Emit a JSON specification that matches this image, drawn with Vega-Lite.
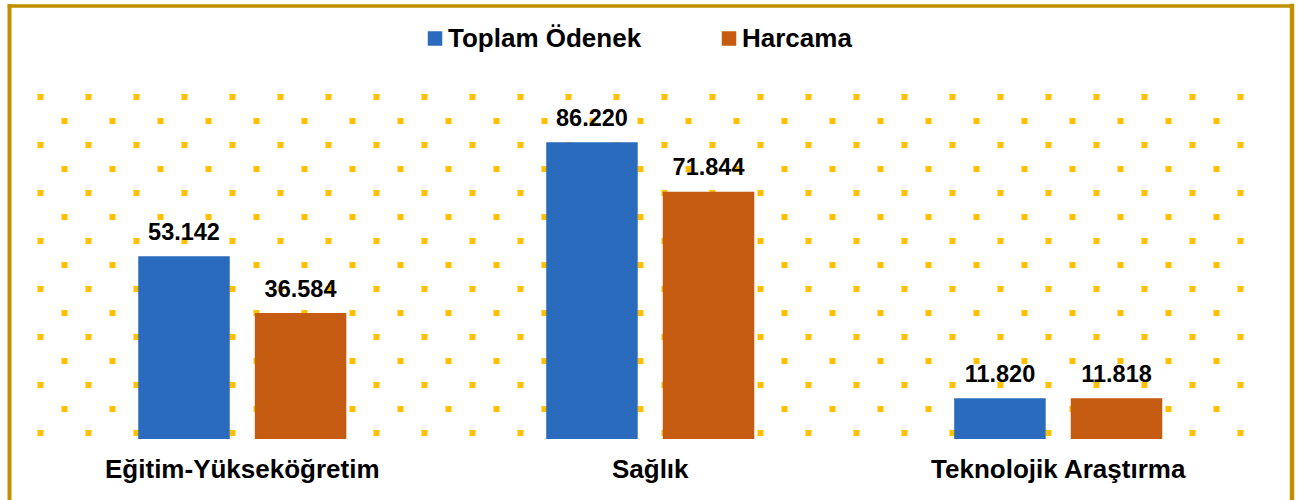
{
  "$schema": "https://vega.github.io/schema/vega-lite/v6.json",
  "width": 1282.5,
  "height": 494.5,
  "autosize": {"type": "none"},
  "padding": {"left": 9, "top": 5.5, "right": 5.5, "bottom": 0},
  "background": "white",
  "config": {"view": {"stroke": null}, "font": "Liberation Sans"},
  "data": {
    "values": [
      {"kategori": "Eğitim-Yükseköğretim", "seri": "Toplam Ödenek", "deger": 53.142},
      {"kategori": "Eğitim-Yükseköğretim", "seri": "Harcama", "deger": 36.584},
      {"kategori": "Sağlık", "seri": "Toplam Ödenek", "deger": 86.220},
      {"kategori": "Sağlık", "seri": "Harcama", "deger": 71.844},
      {"kategori": "Teknolojik Araştırma", "seri": "Toplam Ödenek", "deger": 11.820},
      {"kategori": "Teknolojik Araştırma", "seri": "Harcama", "deger": 11.818}
    ]
  },
  "layer": [
    {
      "mark": {"type": "bar"},
      "encoding": {
        "x": {
          "field": "kategori", "type": "nominal", "sort": null,
          "scale": {"paddingInner": 0.49, "paddingOuter": 0.3168, "align": 0.5},
          "axis": {
            "orient": "bottom", "offset": -61, "title": null, "domain": false, "ticks": false, "grid": false,
            "labelFontSize": 26, "labelFontWeight": "bold", "labelColor": "black", "labelPadding": 17,
            "labelAngle": 0, "labelFont": "Liberation Sans", "labelLimit": 0
          }
        },
        "xOffset": {
          "field": "seri", "type": "nominal", "sort": ["Toplam Ödenek", "Harcama"],
          "scale": {"paddingInner": 0.215, "paddingOuter": 0}
        },
        "y": {
          "field": "deger", "type": "quantitative",
          "scale": {"domain": [-17.73, 125.98], "nice": false, "zero": false},
          "axis": {
            "orient": "left", "title": null, "labels": false, "ticks": false,
            "domain": true, "domainColor": "#BF9000", "domainWidth": 4, "domainCap": "square",
            "grid": true, "gridColor": "#FFC000", "gridWidth": 6,
            "values": [1.744, 8.718, 15.693, 22.668, 29.643, 36.617, 43.592, 50.567, 57.541, 64.516, 71.491, 78.466, 85.440, 92.415, 99.390],
            "gridDash": {
              "condition": {
                "test": "indexof([8.718, 22.668, 36.617, 50.567, 64.516, 78.466, 92.415], datum.value) >= 0",
                "value": [0, 52, 6, 42, 6, 42, 6, 42, 6, 42, 6, 42, 6, 42, 6, 42, 6, 42, 6, 42, 6, 42, 6, 42, 6, 42, 6, 42, 6, 42, 6, 42, 6, 42, 6, 42, 6, 42, 6, 42, 6, 42, 6, 42, 6, 42, 6, 42, 6, 42, 6, 5000]
              },
              "value": [0, 28, 6, 42, 6, 42, 6, 42, 6, 42, 6, 42, 6, 42, 6, 42, 6, 42, 6, 42, 6, 42, 6, 42, 6, 42, 6, 42, 6, 42, 6, 42, 6, 42, 6, 42, 6, 42, 6, 42, 6, 42, 6, 42, 6, 42, 6, 42, 6, 42, 6, 42, 6, 5000]
            }
          }
        },
        "y2": {"datum": 0},
        "color": {
          "field": "seri", "type": "nominal",
          "scale": {"domain": ["Toplam Ödenek", "Harcama"], "range": ["#2A6BBD", "#C55A11"]},
          "legend": {
            "orient": "none", "legendX": 413, "legendY": 20, "direction": "horizontal", "title": null,
            "padding": 0, "symbolType": "square", "symbolSize": 210, "symbolStrokeWidth": 0,
            "labelFontSize": 26, "labelFont": "Liberation Sans", "labelFontWeight": "bold", "labelColor": "black",
            "labelOffset": 0, "columnPadding": 74, "labelLimit": 0
          }
        }
      }
    },
    {
      "mark": {"type": "text", "baseline": "alphabetic", "dy": -16.5, "fontSize": 23.5, "fontWeight": "bold", "font": "Liberation Sans", "color": "black"},
      "encoding": {
        "x": {
          "field": "kategori", "type": "nominal", "sort": null,
          "axis": {"orient": "top", "title": null, "labels": false, "ticks": false, "grid": false, "domain": true, "domainColor": "#BF9000", "domainWidth": 3.5, "domainCap": "square"}
        },
        "xOffset": {"field": "seri", "type": "nominal", "sort": ["Toplam Ödenek", "Harcama"]},
        "y": {
          "field": "deger", "type": "quantitative",
          "axis": {"orient": "right", "title": null, "labels": false, "ticks": false, "grid": false, "domain": true, "domainColor": "#BF9000", "domainWidth": 4.5, "domainCap": "square"}
        },
        "text": {"field": "deger", "type": "quantitative", "format": ".3f"}
      }
    }
  ],
  "resolve": {"axis": {"x": "independent", "y": "independent"}}
}
